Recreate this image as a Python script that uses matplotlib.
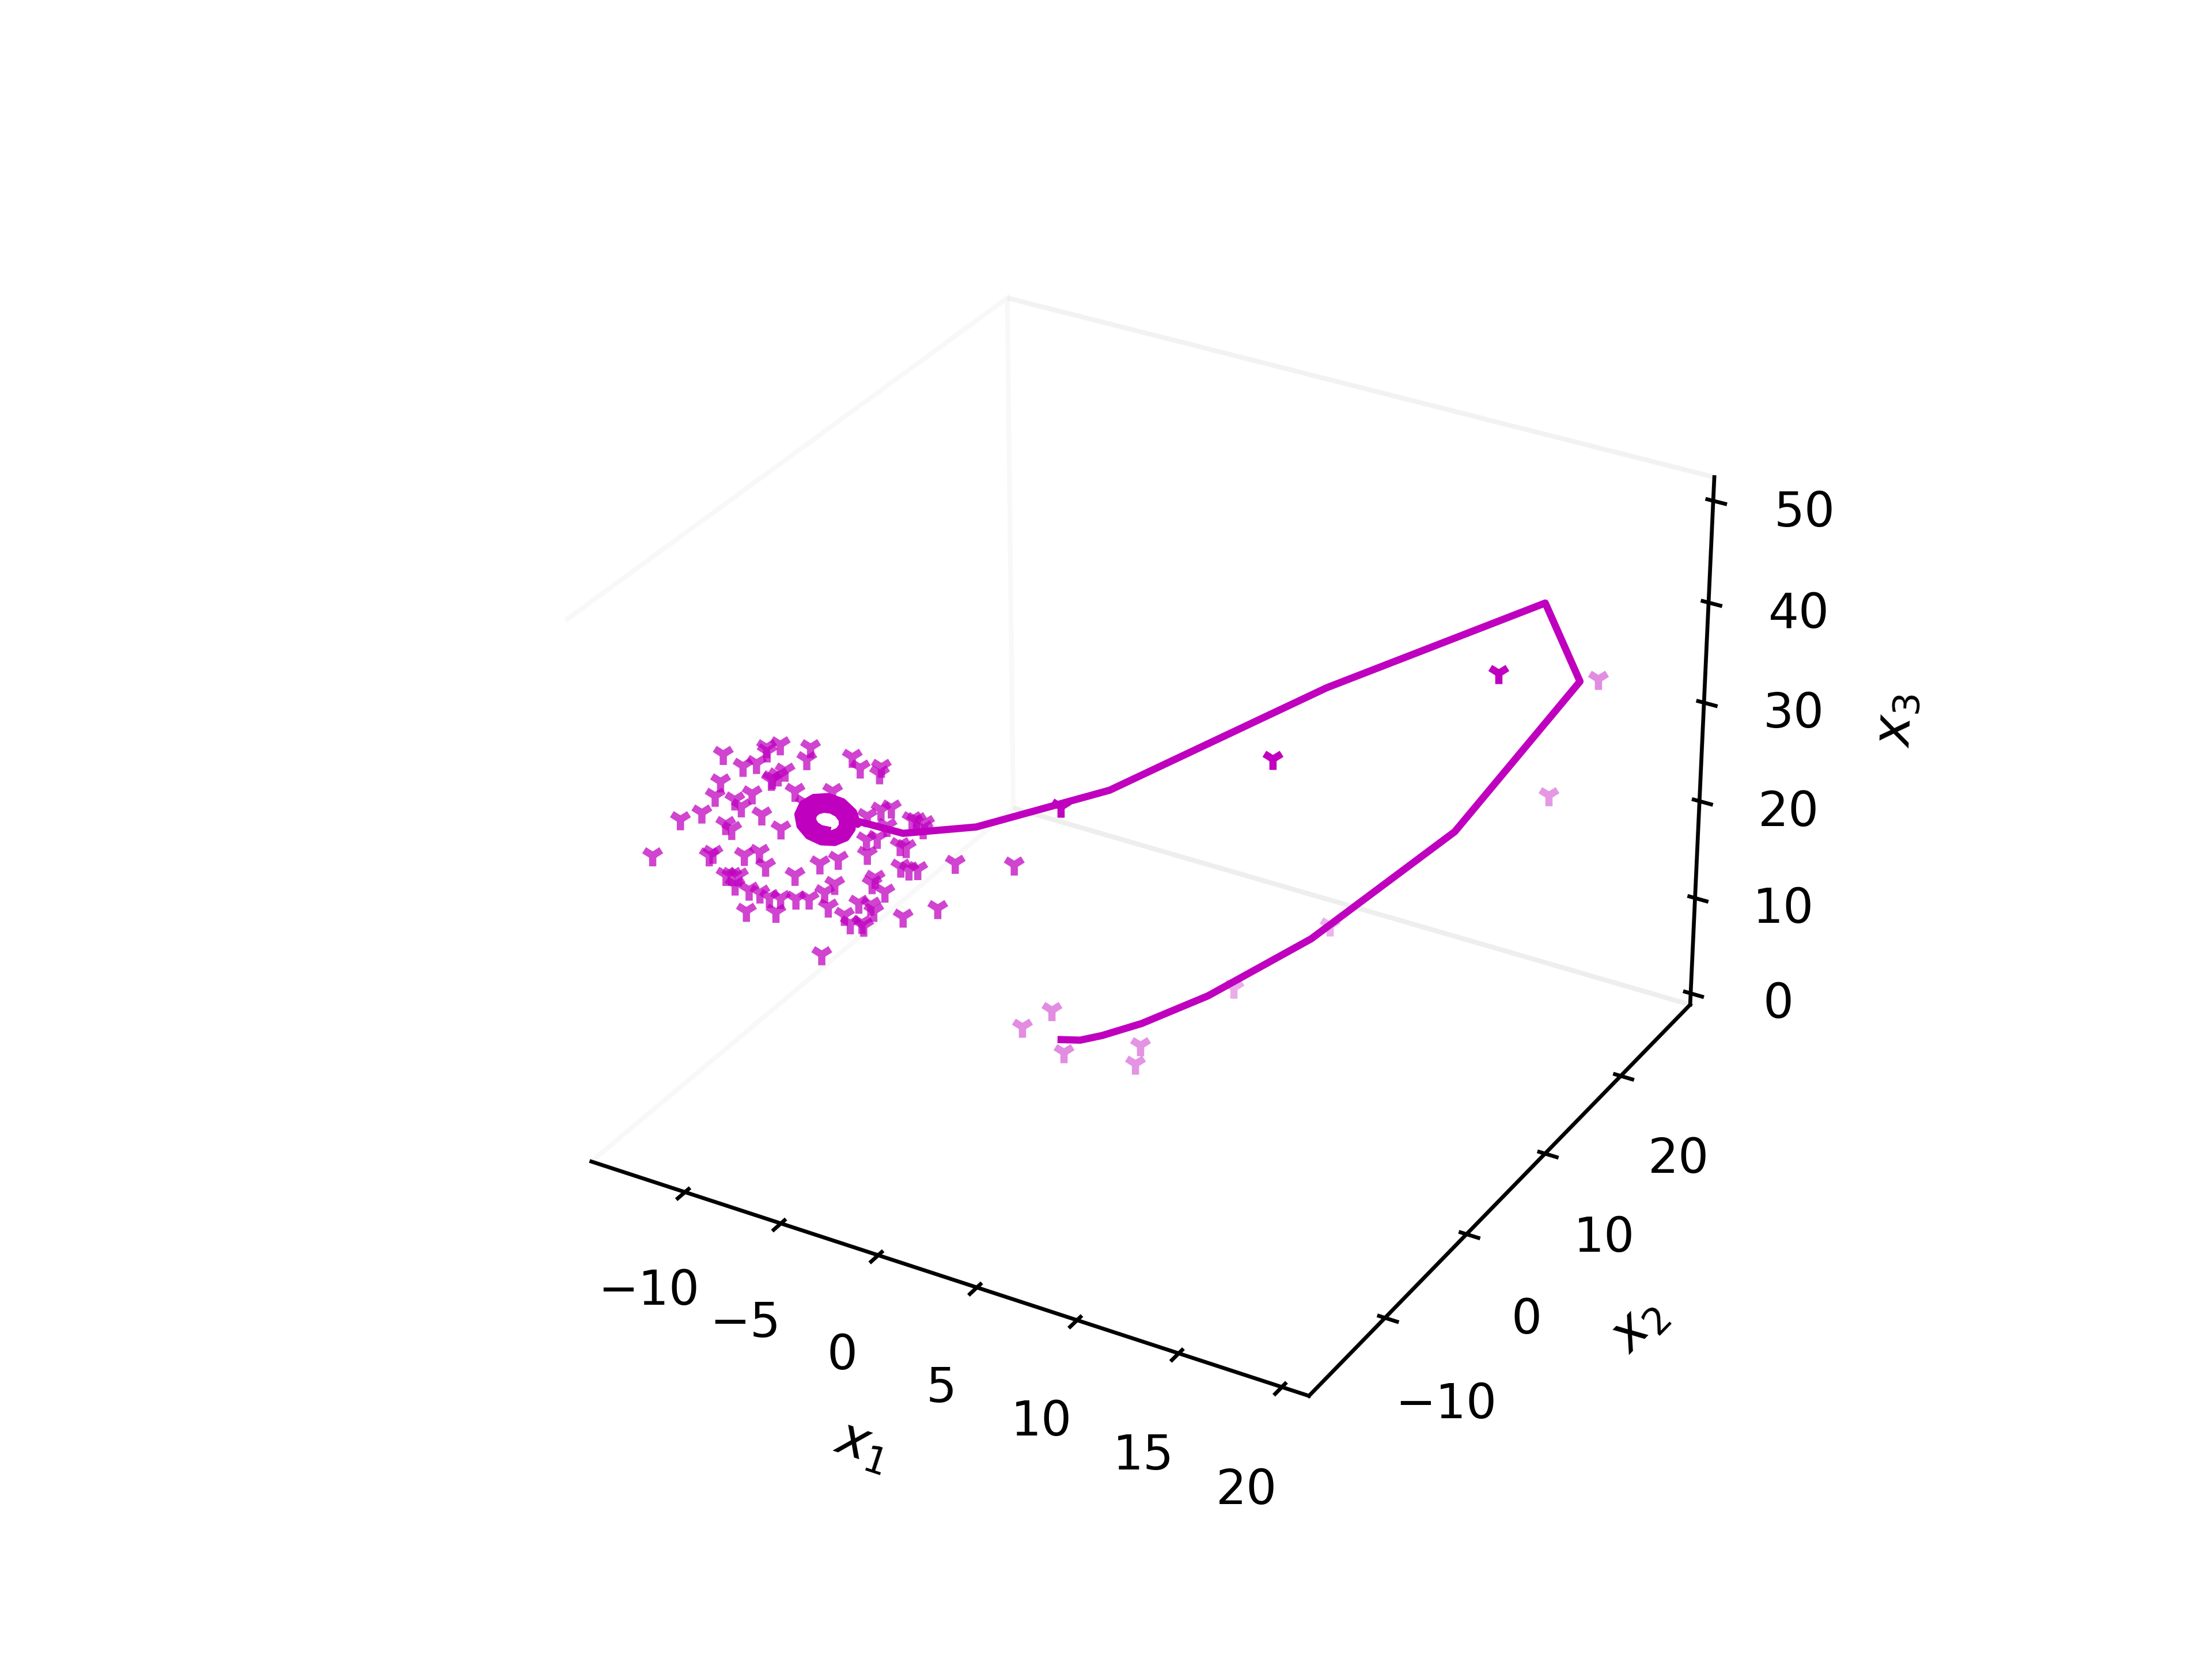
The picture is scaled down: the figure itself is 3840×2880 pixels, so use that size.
import matplotlib
matplotlib.use('Agg')
import matplotlib.pyplot as plt

# True trajectory
x1_line=[-1.24,-0.47,0.27,1.43,3.46,6.3,10.62,15.6,15.04,9.07,2.69,-2.53,-5.49,-7.43,-7.16,-7.9,-8.79,-9.58,-10.09,-10.21,-9.9,-9.27,-8.48,-7.72,-7.18,-6.97,-7.15,-7.66,-8.36,-9.08,-9.64,-9.91,-9.83,-9.43,-8.83,-8.17,-7.62,-7.31,-7.3,-7.59,-8.09,-8.67,-9.2,-9.54,-9.62,-9.42,-9.02,-8.51,-8.03,-7.69,-7.56,-7.67,-7.97,-8.4,-8.83,-9.16,-9.32,-9.28,-9.06,-8.72,-8.35,-8.05]
x2_line=[4.61,5.13,6.06,8.18,11.53,17.57,25.13,28.14,24.6,12.24,1.55,-2,-3.79,-4.4,-5.22,-4.1,-3.4,-3.31,-3.82,-4.79,-5.97,-7.06,-7.8,-8.01,-7.68,-6.89,-5.84,-4.81,-4.04,-3.71,-3.9,-4.54,-5.45,-6.41,-7.17,-7.56,-7.5,-7.02,-6.25,-5.39,-4.66,-4.22,-4.18,-4.52,-5.16,-5.91,-6.59,-7.04,-7.15,-6.93,-6.43,-5.8,-5.19,-4.75,-4.58,-4.71,-5.09,-5.61,-6.13,-6.53,-6.72,-6.66]
x3_line=[1,1,1.2,1.5,3,6,14,30,40,37,31,27,26,26.5,27,27,27,27,27,27,27,27,27,27,27,27,27,27,27,27,27,27,27,27,27,27,27,27,27,27,27,27,27,27,27,27,27,27,27,27,27,27,27,27,27,27,27,27,27,27,27,27]

# Observations
x1_obs=[-13.15,-12.27,-11.79,-11.58,-11.51,-11.09,-9.91,-9.92,-8.22,-7.8,-7,-7,-10.62,-10.83,-11.02,-11.04,-12.95,-13,-12.21,-11.62,-11.89,-10.02,-8.59,-9.5,-11.02,-13.32,-14.06,-12.29,-12.01,-10.14,-14.72,-12.46,-12.57,-11.24,-10.7,-10.32,-8.28,-7.63,-9.1,-6.58,-7,-6.55,-6.18,-6.14,-5.26,-5.08,-4.74,-4.74,-6.77,-6.38,-5.43,-5.18,-5.17,-4.83,-4.5,-3.14,-0.88,-11.72,-11.5,-11.24,-11.27,-10.68,-10.24,-9.83,-9.39,-8.8,-8.3,-7.78,-7.49,-7.49,-9.42,-10.55,-6.37,-6.08,-6.02,-5.5,-5.71,-5.89,-6.47,-6.78,-6.03,-5.93,-4.53,-3.31,-7.21,18.73,11.3,3.71,15.74,14.46,5.91,3.09,-1.92,-2.89,-0.97,1.51,1.52]
x2_obs=[-7.13,-6.85,-6.38,-5.69,-5.78,-5.21,-4.39,-4.81,-3.41,-3.45,-2.82,-3.03,-5.74,-6.06,-6.31,-6.37,-7.91,-8.43,-7.95,-7.29,-7.93,-5.96,-4.86,-5.96,-7.54,-9.25,-10.05,-8.84,-8.78,-7.33,-11.78,-9.94,-10.12,-9.08,-8.56,-8.72,-7.07,-6.42,-8.09,-5.44,-4.48,-3.91,-3.55,-4.15,-3.25,-3.15,-3.15,-2.98,-5.1,-4.74,-4.25,-4.12,-4.78,-4.61,-4.34,-3.09,-1.4,-10.12,-9.95,-9.77,-10.1,-9.82,-9.57,-9.41,-9.11,-8.68,-8.29,-7.67,-7.16,-7.92,-9.59,-10.44,-6.93,-6.04,-5.82,-5.88,-6.7,-6.63,-7.7,-7.67,-7.35,-7.37,-5.99,-4.75,-9.33,8.93,0.36,-6.27,30.29,27.53,20.96,15.64,5.08,3.76,4.34,7.85,7.21]
x3_obs=[31.99,31.1,31.31,32.49,32.18,32.71,32.49,31.6,31.77,30.97,31.03,30.54,30.74,30.38,30.17,30.05,29.94,28.86,28.59,29.05,28.07,29.23,29.22,28.36,27.47,27.61,27.11,26.75,26.37,26.42,24.41,24.59,24.41,24.44,24.67,23.63,23.8,24.15,22.94,24.52,27.35,27.82,27.98,26.6,27.11,27.04,26.43,26.82,25.6,25.71,25.17,25.02,23.56,23.34,23.37,23.85,23.72,22.94,22.94,22.9,22.22,21.84,21.62,21.29,21.22,21.18,21.18,21.65,22.27,20.57,20.18,20.26,20.86,22.32,22.73,21.69,20.26,20.72,19.32,19.96,19.35,19.14,19.83,20.46,17.01,45.95,39.71,35.64,28.8,18.16,4.56,0.41,3.27,1.98,0.03,-0.5,-1.93]

fig = plt.figure(figsize=(6.4, 4.8), dpi=600)
ax = fig.add_subplot(projection='3d')
ax.grid(False)
for axis in (ax.xaxis, ax.yaxis, ax.zaxis):
    axis.pane.fill = False
ax.plot(x1_line, x2_line, x3_line, color='m')
ax.scatter(x1_obs, x2_obs, x3_obs, color='m', marker='1', s=20)
ax.set_xlim(-14.95, 21.3)
ax.set_ylim(-19.0, 29.5)
ax.set_zlim(-1.2, 52.3)
ax.set_xlabel('$x_1$', fontsize=11)
ax.set_ylabel('$x_2$', fontsize=11)
ax.set_zlabel('$x_3$', fontsize=11)
fig.savefig('out.png')
